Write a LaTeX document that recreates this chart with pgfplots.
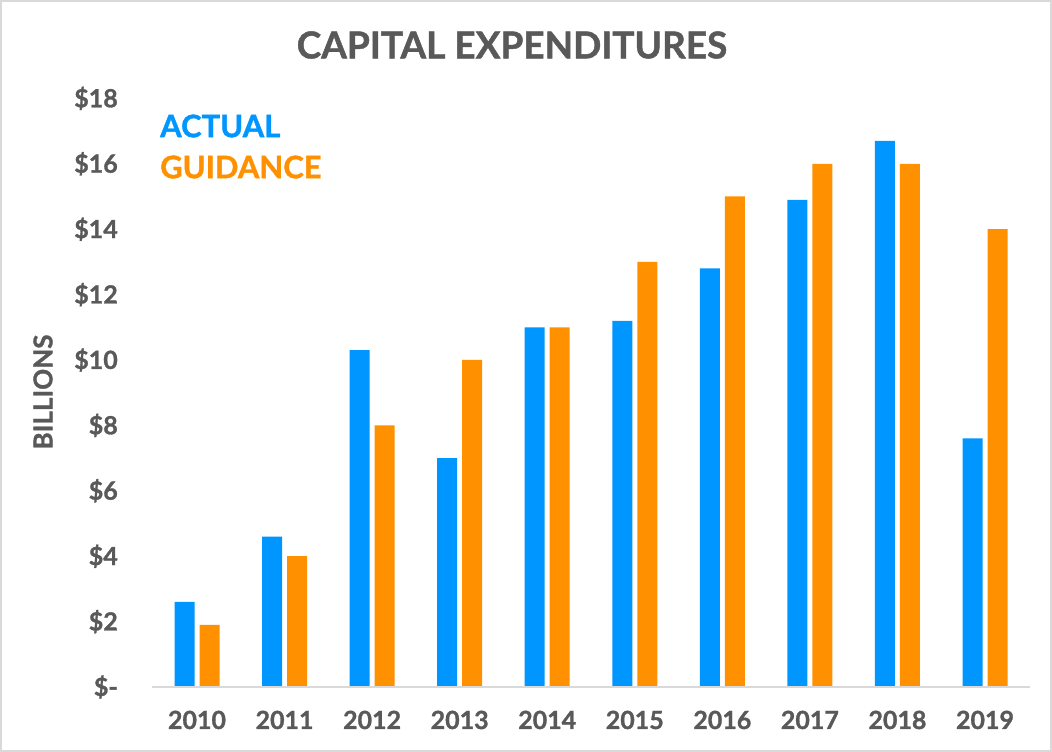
\documentclass[border=0pt]{standalone}
\usepackage{pgfplots}
\pgfplotsset{compat=1.18}
\usepackage{fontspec}
\setmainfont{Lato}[BoldFont={* Bold}, BoldFeatures={FakeBold=1.2}]
\definecolor{txt}{HTML}{595959}
\definecolor{actual}{HTML}{0096FF}
\definecolor{guide}{HTML}{FF9100}
\definecolor{frame}{HTML}{D9D9D9}
\begin{document}
\begin{tikzpicture}[x=1pt,y=1pt]
\useasboundingbox (0,0) rectangle (1052,752);
\draw[frame,line width=1.5pt] (1,1) rectangle (1051,751);
\begin{axis}[
  at={(152pt,65pt)}, anchor=south west,
  scale only axis, width=878pt, height=588.6pt,
  xmin=-0.514, xmax=9.514, ymin=0, ymax=18,
  axis line style={draw=none},
  axis x line*=bottom,
  xtick=data,
  xticklabels={2010,2011,2012,2013,2014,2015,2016,2017,2018,2019},
  ytick={0,2,4,6,8,10,12,14,16,18},
  yticklabels={\$-,\$2,\$4,\$6,\$8,\$10,\$12,\$14,\$16,\$18},
  major tick length=0pt,
  tick label style={font=\fontsize{25}{25}\selectfont\bfseries, text=txt},
  yticklabel style={anchor=east, inner sep=0pt, xshift=-34pt},
  xticklabel style={anchor=base, inner sep=0pt, yshift=-42pt},
  ybar, bar width=20pt,
  clip=false,
]
\addplot[fill=actual, draw=none, bar shift=-12.5pt] coordinates {
 (0,2.6) (1,4.6) (2,10.3) (3,7.0) (4,11.0) (5,11.2) (6,12.8) (7,14.9) (8,16.7) (9,7.6)};
\addplot[fill=guide, draw=none, bar shift=12.5pt] coordinates {
 (0,1.9) (1,4.0) (2,8.0) (3,10.0) (4,11.0) (5,13.0) (6,15.0) (7,16.0) (8,16.0) (9,14.0)};
\draw[frame, line width=1.5pt] (rel axis cs:0,0) -- (rel axis cs:1,0);
\end{axis}
\node[font=\fontsize{37}{37}\selectfont\bfseries, text=txt, inner sep=0pt] at (512,707) {CAPITAL EXPENDITURES};
\node[font=\fontsize{31}{31}\selectfont\bfseries, text=actual, inner sep=0pt, anchor=west] at (160,626) {ACTUAL};
\node[font=\fontsize{31}{31}\selectfont\bfseries, text=guide, inner sep=0pt, anchor=west] at (160,585) {GUIDANCE};
\node[font=\fontsize{26}{26}\selectfont\bfseries, text=txt, inner sep=0pt, rotate=90] at (43,360) {BILLIONS};
\end{tikzpicture}
\end{document}
